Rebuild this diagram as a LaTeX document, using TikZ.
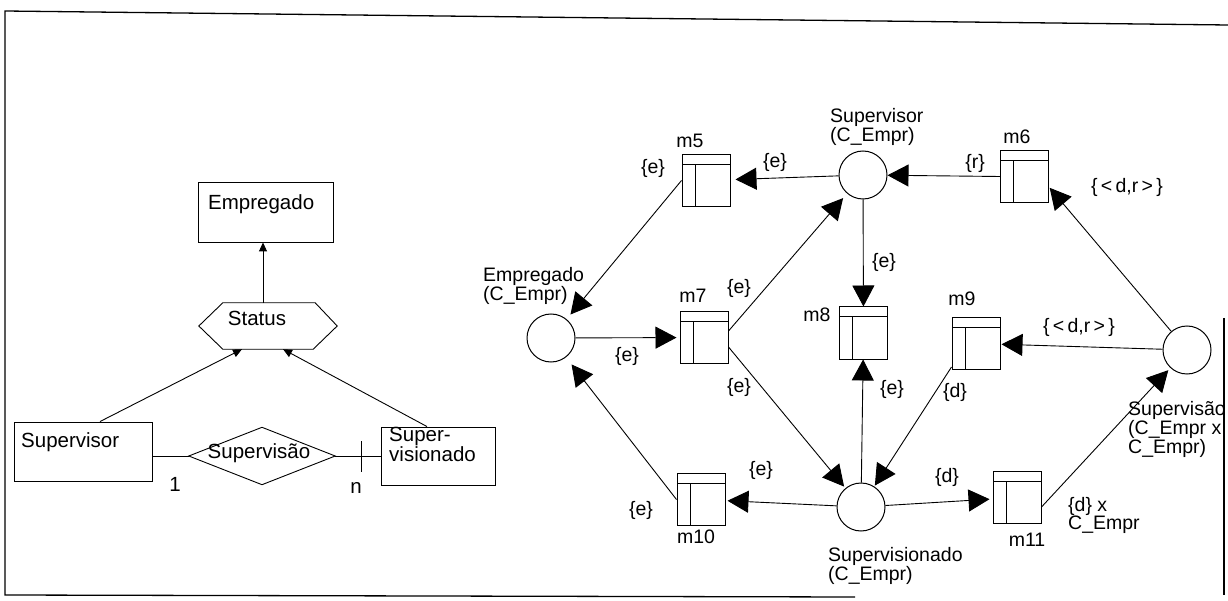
\documentclass[tikz,border=0pt]{standalone}
\usepackage{fontspec}
\setmainfont{Liberation Sans}
\usetikzlibrary{arrows.meta}
\begin{document}
\begin{tikzpicture}[x=1pt,y=-1pt,
  place/.style={circle,draw,line width=1pt,minimum size=48pt,inner sep=0pt},
  trans/.style={rectangle,draw,line width=1pt,minimum width=48pt,minimum height=52pt,inner sep=0pt,
    path picture={
      \draw[line width=1pt] ([yshift=-10pt]path picture bounding box.north west) -- ([yshift=-10pt]path picture bounding box.north east);
      \draw[line width=1pt] ([xshift=13pt,yshift=-10pt]path picture bounding box.north west) -- ([xshift=13pt]path picture bounding box.south west);}},
  arc/.style={line width=0.9pt,-{Triangle[length=21pt,width=22pt]}},
  lbl/.style={font=\fontsize{19.5}{18}\selectfont,inner sep=0pt},
  mlbl/.style={lbl,align=left,anchor=north west},
  erbox/.style={draw,line width=0.9pt,inner sep=0pt},
  erline/.style={line width=0.9pt},
  erarr/.style={line width=0.9pt,-{Triangle[length=9pt,width=8pt]}},
  ertext/.style={font=\fontsize{20.5}{18.5}\selectfont,inner sep=0pt},
  frame/.style={line width=1.3pt}]
\useasboundingbox (0,0) rectangle (1228,601);

% frame
\coordinate (f1) at (5,595);
\coordinate (f2) at (5,11);
\coordinate (f3) at (1228,25);
\coordinate (f4) at (855,597);
\coordinate (f5) at (1224,318);
\coordinate (f6) at (1224,595);
\draw[frame] (f4) -- (f1) -- (f2) -- (f3);
\draw[frame] (f5) -- (f6);

% ---------- ER diagram ----------
\node[erbox,minimum width=135pt,minimum height=60pt] (emp) at (265.5,212) {};
\node[ertext,anchor=west] (emptxt) at (208,204) {Empregado};

\node[minimum width=138pt,minimum height=46pt,inner sep=0pt] (status) at (268,326) {};
\draw[erline] (status.west) -- ([xshift=24pt]status.north west) -- ([xshift=-22pt]status.north east)
  -- (status.east) -- ([xshift=-24pt]status.south east) -- ([xshift=24pt]status.south west) -- cycle;
\node[ertext] (stattxt) at (257,318) {Status};

\node[erbox,minimum width=138pt,minimum height=59pt] (supv) at (83,451.5) {};
\node[ertext,anchor=west] (supvtxt) at (21,442) {Supervisor};

\node[minimum width=146pt,minimum height=57pt,inner sep=0pt] (rel) at (262,456) {};
\draw[erline] (rel.west) -- (rel.north) -- (rel.east) -- (rel.south) -- cycle;
\node[ertext] (reltxt) at (259,453) {Supervisão};

\node[erbox,minimum width=114pt,minimum height=58pt] (supd) at (438,456) {};
\node[ertext,align=left,anchor=north west] (supdtxt) at (389,427) {Super-\\visionado};

\draw[erarr] ([xshift=-5pt]status.north) -- ([xshift=-2.5pt]emp.south);
\draw[erarr] ([xshift=17pt]supv.north) -- ([xshift=-26pt]status.south);
\draw[erarr] ([xshift=-11pt]supd.north) -- ([xshift=15pt]status.south);
\draw[erline] (rel.west -| supv.east) -- (rel.west);
\draw[erline] (rel.east) -- (supd.west);
\draw[erline] ([xshift=-19pt,yshift=15pt]supd.west) -- ([xshift=-19pt,yshift=-16pt]supd.west);
\node[ertext] (one) at (175,484) {1};
\node[ertext] (enn) at (356,488) {n};

% ---------- Petri net ----------
\node[place] (pemp) at (551,338) {};
\node[place] (psupr) at (863,175) {};
\node[place] (psupd) at (861,507) {};
\node[place] (psao) at (1187,350) {};

\node[trans] (m5) at (706,180.5) {};
\node[trans] (m6) at (1024.5,176.5) {};
\node[trans] (m7) at (704,337.5) {};
\node[trans] (m8) at (863.5,333) {};
\node[trans] (m9) at (976,343.5) {};
\node[trans] (m10) at (701,499.5) {};
\node[trans] (m11) at (1017,497.5) {};

\node[lbl] (lm5) at (690,141) {m5};
\node[lbl] (lm6) at (1017,137) {m6};
\node[lbl] (lm7) at (693,296) {m7};
\node[lbl] (lm8) at (817,315) {m8};
\node[lbl] (lm9) at (962,299) {m9};
\node[lbl] (lm10) at (696,537) {m10};
\node[lbl] (lm11) at (1027,540) {m11};

\node[mlbl] (lsupr) at (830,108) {Supervisor\\(C\_Empr)};
\node[mlbl] (lemp) at (483,267) {Empregado\\(C\_Empr)};
\node[mlbl] (lsupd) at (828,547) {Supervisionado\\(C\_Empr)};
\node[mlbl] (lsao) at (1128,401) {Supervisão\\(C\_Empr x\\C\_Empr)};
\node[mlbl] (ldx) at (1068,497) {\{d\} x\\C\_Empr};

% arcs
\draw[arc,shorten >=5pt] (psupr) -- (m5);
\draw[arc] (m6.west) -- (psupr);
\draw[arc,shorten >=1pt] (psao) -- ([yshift=-10.5pt]m6.east);
\draw[arc,shorten >=6pt] (m5.west) -- (pemp);
\draw[arc,shorten >=3pt] (pemp) -- (m7);
\draw[arc,shorten >=6pt] ([yshift=6.5pt]m7.east) -- (psupr);
\draw[arc] (psupr) -- (m8);
\draw[arc,shorten >=2pt] ([yshift=-9.5pt]m7.east) -- (psupd);
\draw[arc] (psupd) -- (m8);
\draw[arc,shorten >=1pt] (psao) -- (m9);
\draw[arc,shorten >=1pt] ([yshift=3pt]m9.south west) -- (psupd);
\draw[arc,shorten >=2pt] (psupd) -- (m10);
\draw[arc,shorten >=9pt] (m10.west) -- (pemp);
\draw[arc,shorten >=3pt] (psupd) -- (m11);
\draw[arc,shorten >=3pt] ([yshift=-9.5pt]m11.east) -- (psao);

% arc labels
\node[lbl] (a1) at (775,162) {\{e\}};
\node[lbl] (a2) at (653,168) {\{e\}};
\node[lbl] (a3) at (975,163) {\{r\}};
\node[lbl] (a4) at (1127,187) {\{\,<\,d,r\,>\,\}};
\node[lbl] (a5) at (884,262) {\{e\}};
\node[lbl] (a6) at (739,288) {\{e\}};
\node[lbl] (a7) at (1079,327) {\{\,<\,d,r\,>\,\}};
\node[lbl] (a8) at (627,356) {\{e\}};
\node[lbl] (a9) at (739,387) {\{e\}};
\node[lbl] (a10) at (892,389) {\{e\}};
\node[lbl] (a11) at (955,392) {\{d\}};
\node[lbl] (a12) at (761,470) {\{e\}};
\node[lbl] (a13) at (641,510) {\{e\}};
\node[lbl] (a14) at (947,477) {\{d\}};
\end{tikzpicture}
\end{document}
